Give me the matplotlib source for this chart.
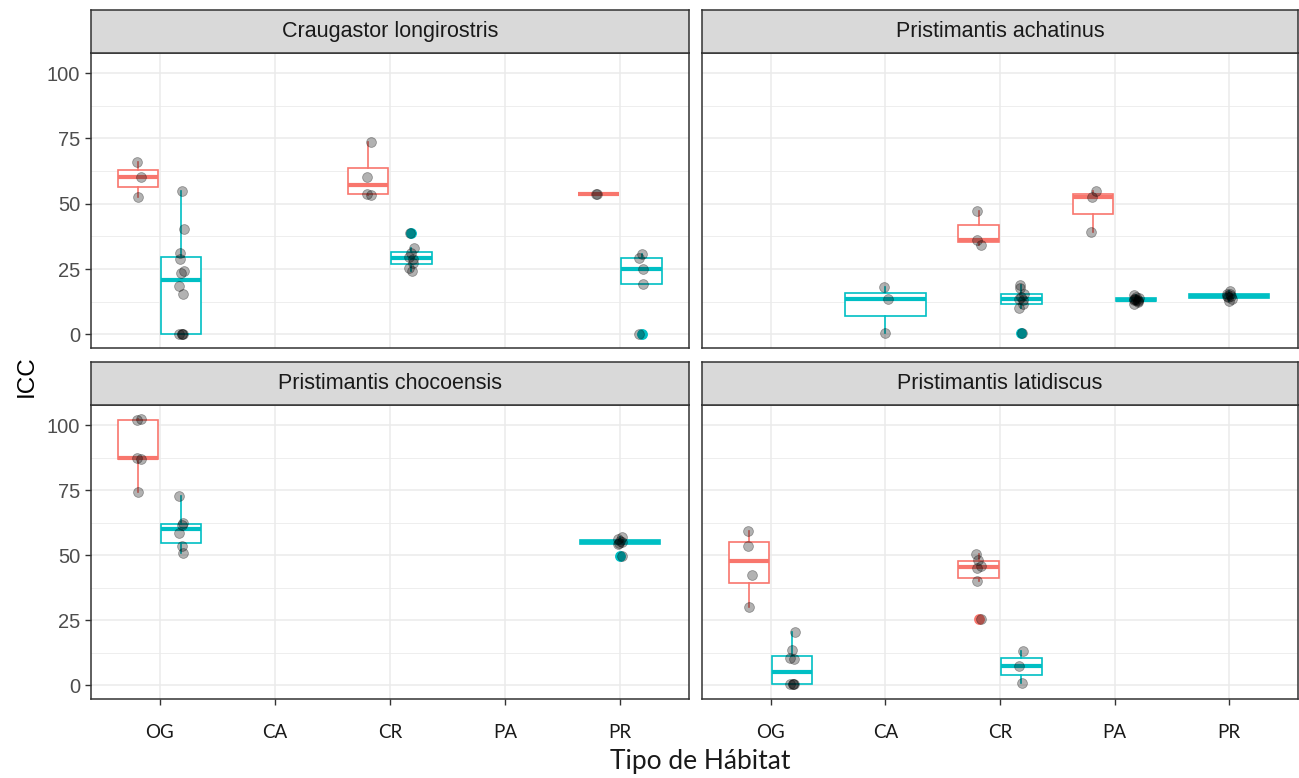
import numpy as np
import matplotlib
matplotlib.use("Agg")
import matplotlib.pyplot as plt
from matplotlib import font_manager

# ---------------- data ----------------
species = ["Craugastor longirostris", "Pristimantis achatinus",
           "Pristimantis chocoensis", "Pristimantis latidiscus"]
habitats = ["OG", "CA", "CR", "PA", "PR"]
y_ticks = [0, 25, 50, 75, 100]

# group 1 = red, group 2 = teal
cl_og_1 = [52.5, 60.2, 66.0]
cl_og_2 = [0.0, 0.0, 0.0, 0.3, 15.5, 18.5, 23.5, 24.2, 29.0, 31.0, 40.5, 55.0]
cl_cr_1 = [53.4, 53.8, 60.3, 73.5]
cl_cr_2 = [24.2, 25.5, 27.5, 29.0, 29.8, 31.0, 33.0, 38.8]
cl_pr_1 = [53.6, 53.8]
cl_pr_2 = [0.0, 19.2, 24.9, 29.2, 30.8]

pa_ca_2 = [0.4, 13.4, 18.0]
pa_cr_1 = [34.4, 36.2, 47.4]
pa_cr_2 = [0.4, 10.0, 11.5, 13.0, 13.5, 14.5, 15.5, 17.6, 18.9]
pa_pa_1 = [39.3, 52.7, 55.0]
pa_pa_2 = [11.5, 12.3, 12.8, 13.0, 13.2, 13.3, 13.5, 13.7, 14.0, 14.5, 15.2]
pa_pr_2 = [12.8, 13.5, 14.2, 14.6, 14.8, 15.3, 15.6, 16.5]

pc_og_1 = [74.2, 87.0, 87.4, 102.0, 102.5]
pc_og_2 = [51.0, 53.5, 58.5, 61.5, 62.4, 72.6]
pc_pr_2 = [49.9, 54.2, 54.8, 55.2, 55.6, 56.2, 57.2]

pl_og_1 = [30.2, 42.3, 53.5, 59.2]
pl_og_2 = [0.5, 0.5, 0.5, 0.5, 10.2, 10.5, 13.5, 20.5]
pl_cr_1 = [25.6, 40.2, 45.0, 46.0, 48.3, 50.6]
pl_cr_2 = [0.8, 7.4, 13.4]

panels = [
    {"OG": (cl_og_1, cl_og_2), "CR": (cl_cr_1, cl_cr_2), "PR": (cl_pr_1, cl_pr_2)},
    {"CA": (None, pa_ca_2), "CR": (pa_cr_1, pa_cr_2), "PA": (pa_pa_1, pa_pa_2), "PR": (None, pa_pr_2)},
    {"OG": (pc_og_1, pc_og_2), "PR": (None, pc_pr_2)},
    {"OG": (pl_og_1, pl_og_2), "CR": (pl_cr_1, pl_cr_2)},
]

# ---------------- style ----------------
RED = "#F8766D"
TEAL = "#00BFC4"
GRID = "#EBEBEB"
BORDER = "#333333"

names = {f.name for f in font_manager.fontManager.ttflist}
SANS = "Liberation Sans" if "Liberation Sans" in names else "DejaVu Sans"
XFONT = "Liberation Sans Narrow" if "Liberation Sans Narrow" in names else "Lato"

W, H = 1299, 778
fig = plt.figure(figsize=(W / 100, H / 100), dpi=100)


def rect(x0, y0, x1, y1):
    return [x0 / W, 1 - y1 / H, (x1 - x0) / W, (y1 - y0) / H]


panel_px = [(90.7, 53, 689, 348), (702, 53, 1298, 348),
            (90.7, 405, 689, 699), (702, 405, 1298, 699)]
strip_px = [(90.7, 10, 689, 53), (702, 10, 1298, 53),
            (90.7, 362, 689, 405), (702, 362, 1298, 405)]


def draw_box(ax, vals, pos, width, color):
    bp = ax.boxplot([vals], positions=[pos], widths=width, whis=1.5,
                    patch_artist=True, showcaps=False, manage_ticks=False,
                    boxprops=dict(facecolor="white", edgecolor=color, linewidth=1.2),
                    whiskerprops=dict(color=color, linewidth=1.2),
                    medianprops=dict(color=color, linewidth=3.0, solid_capstyle="butt"),
                    flierprops=dict(marker="o", markerfacecolor=color,
                                    markeredgecolor=color, markersize=6.8),
                    zorder=3)
    return bp


def draw_points(ax, vals, pos, seed):
    n = len(vals)
    offs = 0.022 * np.sin(1.9 * np.arange(n) + seed)
    ax.scatter(pos + offs, vals, s=50, facecolor=(0, 0, 0, 0.3),
               edgecolor=(0, 0, 0, 0.32), linewidth=0.6, zorder=5)


for i, (pdict, prect, srect) in enumerate(zip(panels, panel_px, strip_px)):
    ax = fig.add_axes(rect(*prect))
    ax.set_xlim(0.4, 5.6)
    ax.set_ylim(-5.2, 107.7)
    # grid
    for yv in np.arange(-12.5, 110, 25):
        ax.axhline(yv, color=GRID, lw=0.6, zorder=0)
    for yv in y_ticks:
        ax.axhline(yv, color=GRID, lw=1.1, zorder=0)
    for xv in range(1, len(habitats) + 1):
        ax.axvline(xv, color=GRID, lw=1.1, zorder=0)

    k = 0
    for h, (g1, g2) in pdict.items():
        x = habitats.index(h) + 1
        both = g1 is not None and g2 is not None
        if both:
            draw_box(ax, g1, x - 0.1875, 0.35, RED)
            draw_box(ax, g2, x + 0.1875, 0.35, TEAL)
            draw_points(ax, g1, x - 0.1875, k)
            draw_points(ax, g2, x + 0.1875, k + 1)
        else:
            vals = g1 if g1 is not None else g2
            col = RED if g1 is not None else TEAL
            draw_box(ax, vals, x, 0.7, col)
            draw_points(ax, vals, x, k)
        k += 2

    for sp in ax.spines.values():
        sp.set_color(BORDER)
        sp.set_linewidth(1.1)
        sp.set_zorder(10)

    ax.set_yticks(y_ticks)
    ax.set_xticks(range(1, len(habitats) + 1))
    ax.tick_params(axis="both", color=BORDER, length=4, width=1.0)
    if i % 2 == 0:
        ax.set_yticklabels([str(v) for v in y_ticks], fontsize=14.5,
                           color="#4D4D4D", family=SANS)
    else:
        ax.tick_params(axis="y", left=False, labelleft=False)
    if i >= 2:
        ax.set_xticklabels(habitats, fontsize=13.5, color="#1A1A1A", family=XFONT)
        ax.tick_params(axis="x", pad=14)
    else:
        ax.tick_params(axis="x", bottom=False, labelbottom=False)

    sax = fig.add_axes(rect(*srect))
    sax.set_facecolor("#D9D9D9")
    sax.set_xticks([])
    sax.set_yticks([])
    for sp in sax.spines.values():
        sp.set_color(BORDER)
        sp.set_linewidth(1.1)
    sax.text(0.5, 0.5, species[i], ha="center", va="center", fontsize=15.5,
             color="#1A1A1A", family=SANS, transform=sax.transAxes)

fig.text(27 / W, 1 - 376 / H, "ICC", rotation=90, ha="center", va="center",
         fontsize=17.5, color="black", family=SANS)
fig.text(700 / W, 1 - 762 / H, "Tipo de Hábitat", ha="center", va="center",
         fontsize=19, color="#1A1A1A", family=XFONT)

fig.savefig("out.png", dpi=100)
